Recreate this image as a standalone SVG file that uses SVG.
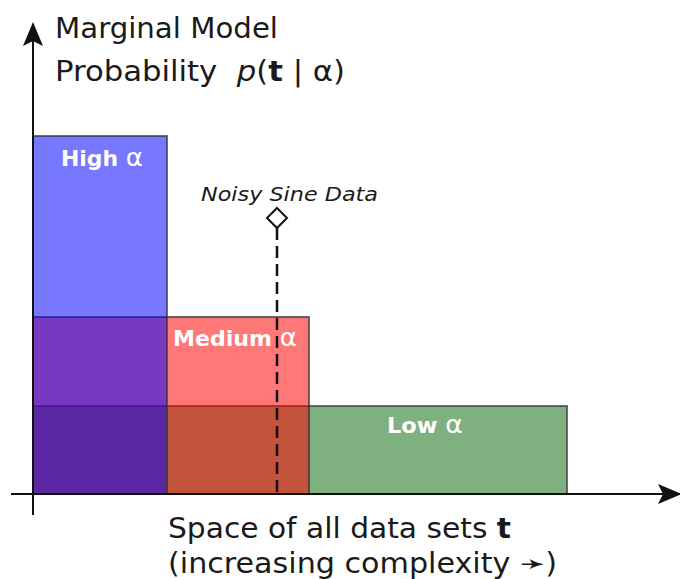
<svg xmlns="http://www.w3.org/2000/svg" width="680" height="579" viewBox="0 0 680 579">
<style>
.lbl{font-family:"DejaVu Sans","Verdana",sans-serif;fill:#1a1a1a}
.big{font-size:28px}
.in{font-family:"DejaVu Sans",sans-serif;font-size:21px;font-weight:bold;fill:#ffffff}
.al{font-weight:normal;font-size:25px}
.bar{stroke:#333;stroke-opacity:0.7;stroke-width:2}
.ax{stroke:#111;stroke-width:2;fill:none}
</style>
<defs>
<marker id="ah" viewBox="0 0 24 20" refX="22" refY="10" markerWidth="24" markerHeight="20" markerUnits="userSpaceOnUse" orient="auto">
<path d="M0,0 L24,10 L0,20 L5,10 Z" fill="#111"/>
</marker>
</defs>
<g id="low">
<rect class="bar" x="33" y="406" width="534" height="88" fill="rgb(0,97,0)" fill-opacity="0.5"/>
<text class="in" x="387" y="433" textLength="76" lengthAdjust="spacingAndGlyphs">Low <tspan class="al">α</tspan></text>
</g>
<g id="medium">
<rect class="bar" x="33" y="317" width="276" height="177" fill="#ff0000" fill-opacity="0.53"/>
<text class="in" x="173" y="346" textLength="124" lengthAdjust="spacingAndGlyphs">Medium <tspan class="al">α</tspan></text>
</g>
<g id="high">
<rect class="bar" x="33" y="136" width="134" height="358" fill="#0000ff" fill-opacity="0.53"/>
<text class="in" x="61" y="166" textLength="82" lengthAdjust="spacingAndGlyphs">High <tspan class="al">α</tspan></text>
</g>
<g id="axes">
<line class="ax" x1="33" y1="515" x2="33" y2="24" marker-end="url(#ah)"/>
<line class="ax" x1="11" y1="494" x2="680" y2="494" marker-end="url(#ah)"/>
</g>
<g id="connectors">
<line x1="277" y1="228" x2="277" y2="494" stroke="#111" stroke-width="2.5" stroke-dasharray="12,6"/>
<path d="M277,208 L287,218 L277,228 L267,218 Z" fill="#fff" stroke="#111" stroke-width="2"/>
</g>
<g id="noisy">
<text class="lbl" x="201" y="201" font-size="19" font-style="italic" textLength="177" lengthAdjust="spacingAndGlyphs">Noisy Sine Data</text>
</g>
<g id="ylabel">
<text class="lbl big" x="55" y="38" textLength="223" lengthAdjust="spacingAndGlyphs">Marginal Model</text>
<text class="lbl big" x="55" y="81" xml:space="preserve" textLength="290" lengthAdjust="spacingAndGlyphs">Probability  <tspan font-style="italic">p</tspan>(<tspan font-weight="bold">t</tspan> | α)</text>
</g>
<g id="xlabel">
<text class="lbl big" x="168" y="538" textLength="343" lengthAdjust="spacingAndGlyphs">Space of all data sets <tspan font-weight="bold">t</tspan></text>
<text class="lbl big" x="168" y="573" textLength="389" lengthAdjust="spacingAndGlyphs">(increasing complexity ➛)</text>
</g>
</svg>
